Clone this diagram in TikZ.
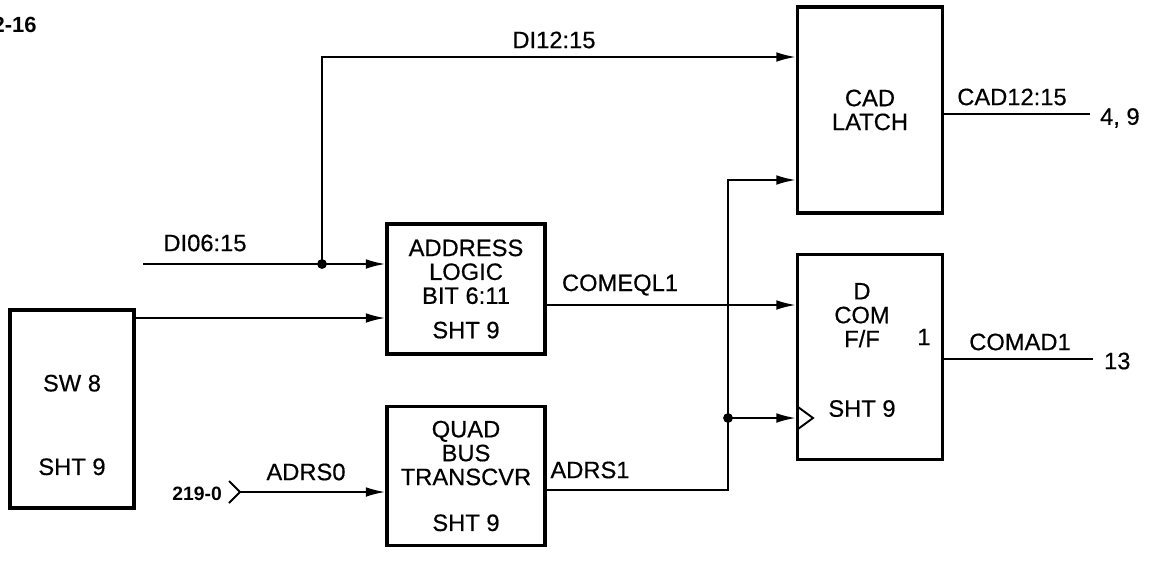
\documentclass[tikz,border=0pt]{standalone}
\usepackage{fontspec}
\setmainfont{Liberation Sans}[UprightFeatures={FakeBold=0.5}]
\usetikzlibrary{arrows.meta}

\begin{document}
\begin{tikzpicture}[x=0.02cm, y=-0.02cm,
  box/.style={rectangle, draw, line width=2pt, inner sep=0pt, align=center,
    font=\fontsize{13.5}{13.6}\selectfont},
  txt/.style={inner sep=1pt, align=center, font=\fontsize{13.5}{13.6}\selectfont},
  wire/.style={line width=1.1pt},
  ->, >={Latex[length=11pt,width=5.5pt]}
]
  \useasboundingbox (0,0) rectangle (1159,575);

  % sheet reference
  \node[anchor=east, inner sep=0pt, font=\bfseries\fontsize{12.5}{12.5}\selectfont]
    (sheet) at (37,25) {2-16};

  % blocks
  \node[box, minimum width=2.48cm, minimum height=3.96cm] (sw) at (72,409) {};
  \node[txt] (swtxt) at (72,425) {SW 8\\[34pt]SHT 9};
  \node[box, minimum width=3.16cm, minimum height=2.6cm] (addr) at (466,289)
    {ADDRESS\\LOGIC\\BIT 6:11\\[6pt]SHT 9};
  \node[box, minimum width=3.16cm, minimum height=2.78cm] (quad) at (466,476)
    {QUAD\\BUS\\TRANSCVR\\[12.5pt]SHT 9};
  \node[box, minimum width=2.9cm, minimum height=4.12cm] (cad) at (870,110)
    {CAD\\LATCH};
  \node[box, minimum width=2.9cm, minimum height=4.1cm] (dcom) at (870,357) {};
  \node[txt] (dtxt) at (862,350) {D\\COM\\F/F\\[26pt]SHT 9};
  \node[txt] (qout) at (924,337) {1};
  \draw[-, line width=1.1pt] (798,407) -- (813,418) -- (798,429);

  % junctions and free ends
  \coordinate (di) at (143,264);
  \coordinate (j1) at (322,264);
  \coordinate (j2) at (728,418);
  \coordinate (in0) at (240,492);
  \coordinate (cadout) at (1090,114);
  \coordinate (comout) at (1093,359);

  % wires
  \draw[wire] (di) -- (addr.west |- di);
  \draw[wire] (j1) |- (cad.west |- 0,57);
  \draw[wire] (sw.east |- 0,318) -- (addr.west |- 0,318);
  \draw[wire] (addr.east |- 0,305) -- (dcom.west |- 0,305);
  \draw[wire] (in0) -- (quad.west |- in0);
  \draw[wire] (quad.east |- 0,490) -| (j2) |- (cad.west |- 0,180);
  \draw[wire] (j2) -- (dcom.west |- j2);
  \draw[wire, -] (cad.east |- cadout) -- (cadout);
  \draw[wire, -] (dcom.east |- comout) -- (comout);
  \fill (j1) circle[radius=2.8pt];
  \fill (j2) circle[radius=2.8pt];

  % connector
  \draw[-, line width=1.1pt] (229,481) -- (in0) -- (229,503);
  \node[txt, anchor=east] (plug) at (224,494) {\bfseries\fontsize{11}{11}\selectfont 219-0};

  % signal names
  \node[txt] (l1) at (205,243) {DI06:15};
  \node[txt] (l2) at (554,40) {DI12:15};
  \node[txt] (l3) at (620,285) {COMEQL1};
  \node[txt] (l4) at (306,472) {ADRS0};
  \node[txt] (l5) at (590,470) {ADRS1};
  \node[txt] (l6) at (1012,97) {CAD12:15};
  \node[txt] (l7) at (1020,342) {COMAD1};
  \node[txt, anchor=west] (r1) at (1098,118) {4, 9};
  \node[txt, anchor=west] (r2) at (1102,361) {13};
\end{tikzpicture}
\end{document}
